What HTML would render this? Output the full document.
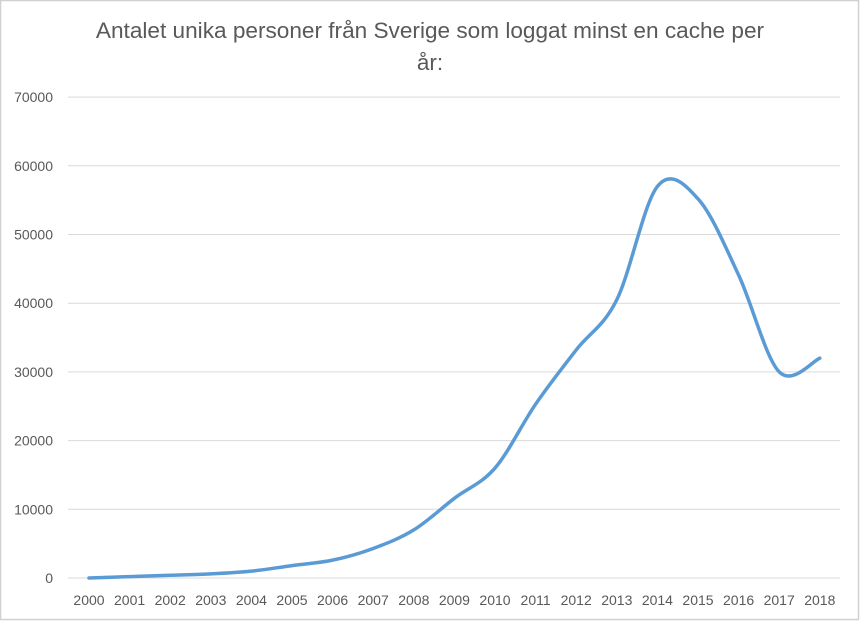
<!DOCTYPE html>
<html><head><style>
html,body{margin:0;padding:0;background:#fff}
body{width:860px;height:621px;overflow:hidden}
svg text{font-family:"Liberation Sans",sans-serif;fill:#595959}
</style></head><body>
<svg width="860" height="621" viewBox="0 0 860 621">
<rect x="0.5" y="0.5" width="858" height="619" fill="#fff" stroke="#d0d0d0" stroke-width="1.5"/>
<text x="430" y="38" font-size="22.6" text-anchor="middle">Antalet unika personer från Sverige som loggat minst en cache per</text>
<text x="430" y="70" font-size="22.6" text-anchor="middle">år:</text>
<g id="grid" stroke="#d9d9d9" stroke-width="1"></g>
<g id="ylab" font-size="14" text-anchor="end"></g>
<g id="xlab" font-size="14" text-anchor="middle"></g>
<path id="line" fill="none" stroke="#5b9bd5" stroke-width="3.5" stroke-linecap="round" stroke-linejoin="round"/>
</svg>
<script>
var y0=578,dy=68.7,x0=89,dx=40.6;
var g=document.getElementById('grid'),yl=document.getElementById('ylab'),xl=document.getElementById('xlab');
var ns='http://www.w3.org/2000/svg';
for(var i=0;i<=7;i++){var y=y0-i*dy;var l=document.createElementNS(ns,'line');l.setAttribute('x1',68);l.setAttribute('x2',840);l.setAttribute('y1',y);l.setAttribute('y2',y);g.appendChild(l);
var t=document.createElementNS(ns,'text');t.setAttribute('x',53);t.setAttribute('y',y+5);t.textContent=i*10000;yl.appendChild(t);}
for(var i=0;i<=18;i++){var t=document.createElementNS(ns,'text');t.setAttribute('x',x0+i*dx);t.setAttribute('y',605);t.textContent=2000+i;xl.appendChild(t);}
var d=[0,200,400,600,1000,1800,2600,4300,7000,11600,16000,25300,33200,40500,57000,55200,44100,30000,32000];
var p=d.map(function(v,i){return [x0+i*dx,y0-v/10000*dy]});
var s='M'+p[0][0]+','+p[0][1];
for(var i=0;i<p.length-1;i++){var a=p[Math.max(i-1,0)],b=p[i],c=p[i+1],e=p[Math.min(i+2,p.length-1)];
var c1=[b[0]+(c[0]-a[0])/6,b[1]+(c[1]-a[1])/6],c2=[c[0]-(e[0]-b[0])/6,c[1]-(e[1]-b[1])/6];
s+=' C'+c1+' '+c2+' '+c;}
document.getElementById('line').setAttribute('d',s);
</script>
</body></html>
